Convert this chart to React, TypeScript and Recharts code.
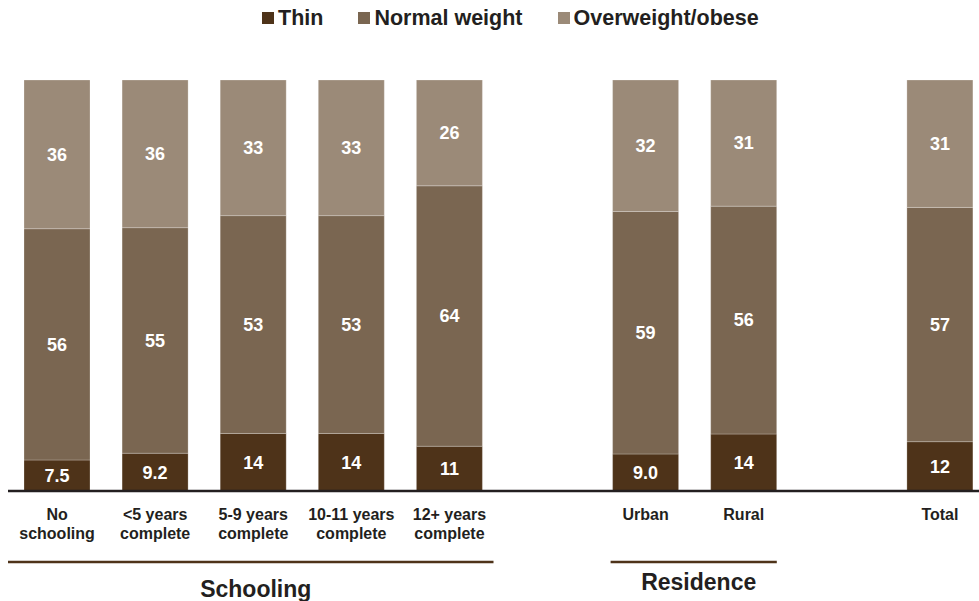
import React from 'react';
import { BarChart, Bar, XAxis, YAxis, Legend, LabelList, ReferenceArea } from 'recharts';

// categories (two empty slots separate the groups)
const categories = [
  'No schooling',
  '<5 years complete',
  '5-9 years complete',
  '10-11 years complete',
  '12+ years complete',
  'gap-1',
  'Urban',
  'Rural',
  'gap-2',
  'Total',
];
const tickLabels: string[][] = [
  ['No', 'schooling'],
  ['<5 years', 'complete'],
  ['5-9 years', 'complete'],
  ['10-11 years', 'complete'],
  ['12+ years', 'complete'],
  [],
  ['Urban'],
  ['Rural'],
  [],
  ['Total'],
];

const thin = [7.5, 9.2, 14, 14, 11, null, 9.0, 14, null, 12];
const normal = [56, 55, 53, 53, 64, null, 59, 56, null, 57];
const overweight = [36, 36, 33, 33, 26, null, 32, 31, null, 31];

const seriesKeys = ['thin', 'normal', 'overweight'];
const seriesNames = ['Thin', 'Normal weight', 'Overweight/obese'];
const seriesColors = ['#4e3319', '#7a6651', '#9b8a78'];

const groupNames = ['Schooling', 'Residence'];
const groupFrom = ['No schooling', 'Urban'];
const groupTo = ['12+ years complete', 'Rural'];

const data = categories.map((name, i) => ({
  name,
  thin: thin[i],
  normal: normal[i],
  overweight: overweight[i],
}));

const textColor = '#231f20';

const fmt = (v: any) => (v == null ? '' : v < 10 ? Number(v).toFixed(1) : String(v));

function LegendContent() {
  return (
    <div style={{ height: 80, position: 'relative' }}>
      <div
        style={{
          position: 'absolute',
          top: 5,
          left: 262,
          display: 'flex',
          alignItems: 'center',
          height: 26,
        }}
      >
        {seriesNames.map((n, i) => (
          <div key={n} style={{ display: 'flex', alignItems: 'center', marginRight: 35 }}>
            <span
              style={{
                width: 12,
                height: 12,
                background: seriesColors[i],
                marginRight: 4,
                display: 'inline-block',
              }}
            />
            <span style={{ fontSize: 21.5, fontWeight: 'bold', color: textColor, lineHeight: '26px' }}>
              {n}
            </span>
          </div>
        ))}
      </div>
    </div>
  );
}

function CategoryTick(props: any) {
  const { x, y, payload } = props;
  const idx = categories.indexOf(payload.value);
  const lines = tickLabels[idx] || [];
  return (
    <text x={x} y={y} textAnchor="middle" fill={textColor} fontSize={16} fontWeight="bold">
      {lines.map((l, i) => (
        <tspan key={i} x={x} dy={i === 0 ? 12 : 19}>
          {l}
        </tspan>
      ))}
    </text>
  );
}

// line + caption drawn under a range of categories
const groupShape = (label: string, insetL: number, insetR: number, textDy: number) => (p: any) => {
  const x1 = p.x + insetL;
  const x2 = p.x + p.width - insetR;
  const yLine = p.y + p.height + 71;
  return (
    <g>
      <line x1={x1} x2={x2} y1={yLine} y2={yLine} stroke="#4e3319" strokeWidth={2.5} />
      <text
        x={(x1 + x2) / 2 + 5}
        y={yLine + textDy}
        textAnchor="middle"
        fill={textColor}
        fontSize={23}
        fontWeight="bold"
      >
        {label}
      </text>
    </g>
  );
};

const groupInsets = [
  [0, 5, 35],
  [14, 16, 28],
];

export default function App() {
  return (
    <div
      style={{
        position: 'fixed',
        left: 0,
        top: 0,
        width: 979,
        height: 601,
        overflow: 'hidden',
        background: '#fff',
        fontFamily: '"Liberation Sans", Arial, sans-serif',
      }}
    >
      <BarChart
        width={989}
        height={601}
        data={data}
        margin={{ top: 0, right: 0, left: 8, bottom: 70 }}
        stackOffset="expand"
        barSize={66}
      >
        <Legend
          verticalAlign="top"
          content={<LegendContent />}
          wrapperStyle={{ left: 0, top: 0, width: 979, height: 80 }}
        />
        <XAxis
          dataKey="name"
          interval={0}
          height={40}
          tickLine={false}
          tickSize={8}
          tickMargin={9}
          axisLine={{ stroke: textColor, strokeWidth: 2.5 }}
          tick={<CategoryTick />}
        />
        <YAxis hide domain={[0, 1]} />
        {seriesKeys.map((k, i) => (
          <Bar
            key={k}
            dataKey={k}
            name={seriesNames[i]}
            stackId="a"
            fill={seriesColors[i]}
            stroke="#ffffff"
            strokeOpacity={0.4}
            strokeWidth={0.6}
            isAnimationActive={false}
          >
            <LabelList
              dataKey={k}
              position="center"
              fill="#ffffff"
              fontSize={18}
              fontWeight="bold"
              formatter={fmt}
            />
          </Bar>
        ))}
        {groupNames.map((g, i) => (
          <ReferenceArea
            key={g}
            x1={groupFrom[i]}
            x2={groupTo[i]}
            ifOverflow="visible"
            shape={groupShape(g, groupInsets[i][0], groupInsets[i][1], groupInsets[i][2])}
          />
        ))}
      </BarChart>
    </div>
  );
}
